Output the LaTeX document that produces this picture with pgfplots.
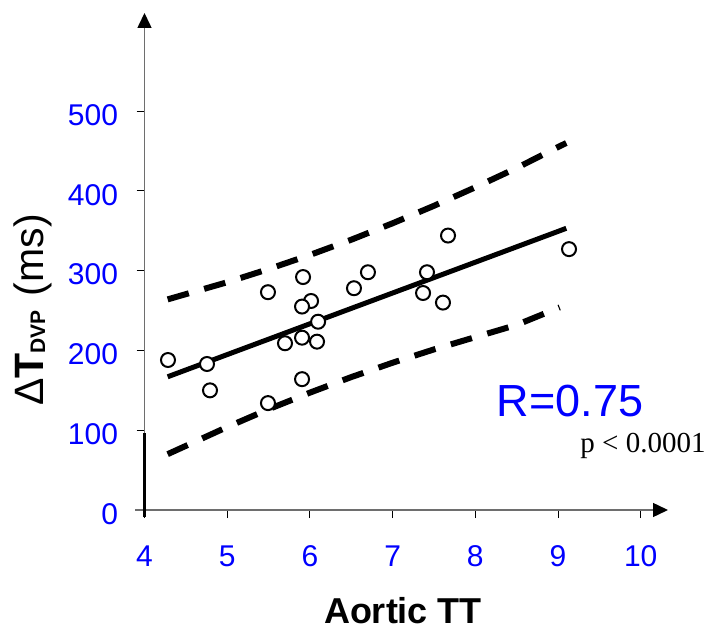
\documentclass[border=0pt]{standalone}
\usepackage{fontspec}
\setmainfont{Liberation Sans}
\newfontfamily\timesfont{Liberation Serif}
\usepackage{pgfplots}
\pgfplotsset{compat=1.18}
\usetikzlibrary{arrows.meta}
\definecolor{tickblue}{RGB}{0,0,255}
\definecolor{axgray}{RGB}{110,110,110}

\pgfplotstableread{
x y
4.284 188
4.756 183
4.792 150
5.493 273
5.493 134
5.699 209
5.917 292
6.014 262
5.905 255
6.099 236
5.905 216
6.086 211
5.905 164
6.533 278
6.702 298
7.670 344
7.416 298
7.368 272
7.609 260
9.133 327
}\points

\pgfplotstableread{
x fit up
4.28 167.0 264.0
5.00 194.8 285.5
5.50 214.1 302.0
6.00 233.4 319.7
6.50 252.7 338.8
7.00 272.0 359.4
7.50 291.3 381.3
8.00 310.6 404.5
8.50 329.9 428.7
9.00 349.2 455.0
9.10 353.1 460.0
}\bands

\pgfplotstableread{
x lo
4.28 70.0
5.00 104.0
5.50 126.3
6.00 147.1
6.50 166.6
7.00 184.6
7.50 201.3
8.00 216.7
8.50 232.0
9.02 254.0
}\lowband

\begin{document}
\begin{tikzpicture}[x=1pt,y=1pt]
\useasboundingbox (0,0) rectangle (712,632);
\begin{axis}[
  at={(144.5pt,122pt)}, anchor=south west,
  scale only axis, width=523.5pt, height=497pt,
  xmin=4, xmax=10.33, ymin=0, ymax=623,
  axis lines=left,
  axis line style={draw=axgray, line width=1.5pt},
  x axis line style={-{Triangle[length=15pt,width=14pt,color=black]}, shorten <=-9.5pt},
  y axis line style={-{Triangle[length=15pt,width=14pt,color=black]}, shorten <=-7pt},
  tick style={black, line width=1pt},
  tick align=outside, major tick length=8pt,
  xtick={4,5,6,7,8,9,10},
  ytick={0,100,200,300,400,500},
  /pgf/number format/assume math mode=true,
  ticklabel style={font=\fontsize{30}{30}\selectfont, text=tickblue},
  xticklabel style={yshift=-24pt},
  yticklabel style={xshift=-15pt, yshift=-4pt},
  clip=false,
]
\addplot[black, line width=6pt, dash pattern=on 22pt off 16pt] table[x=x,y=up] {\bands};
\addplot[black, line width=6pt, dash pattern=on 22pt off 16pt] table[x=x,y=lo] {\lowband};
\addplot[black, line width=5pt] table[x=x,y=fit] {\bands};
\addplot[only marks, mark=*, mark size=7pt, mark options={fill=white, draw=black, line width=2pt}] table[x=x,y=y] {\points};
\draw[black, line width=2.2pt, shorten <=-7pt] (axis cs:4,0) -- (axis cs:4,96);
\end{axis}
\node[rotate=90, anchor=base, font=\fontsize{41}{41}\selectfont] at (43,322)
  {Δ\textbf{T\raisebox{-2pt}{\fontsize{21}{21}\selectfont DVP}}\hspace{14pt}(ms)};
\node[anchor=base, font=\bfseries\fontsize{36}{36}\selectfont] at (403,9) {Aortic TT};
\node[anchor=base, font=\fontsize{45}{45}\selectfont, text=tickblue] at (570,215) {R=0.75};
\node[anchor=base, font=\timesfont\fontsize{29}{29}\selectfont] at (643,179) {p < 0.0001};
\end{tikzpicture}
\end{document}
